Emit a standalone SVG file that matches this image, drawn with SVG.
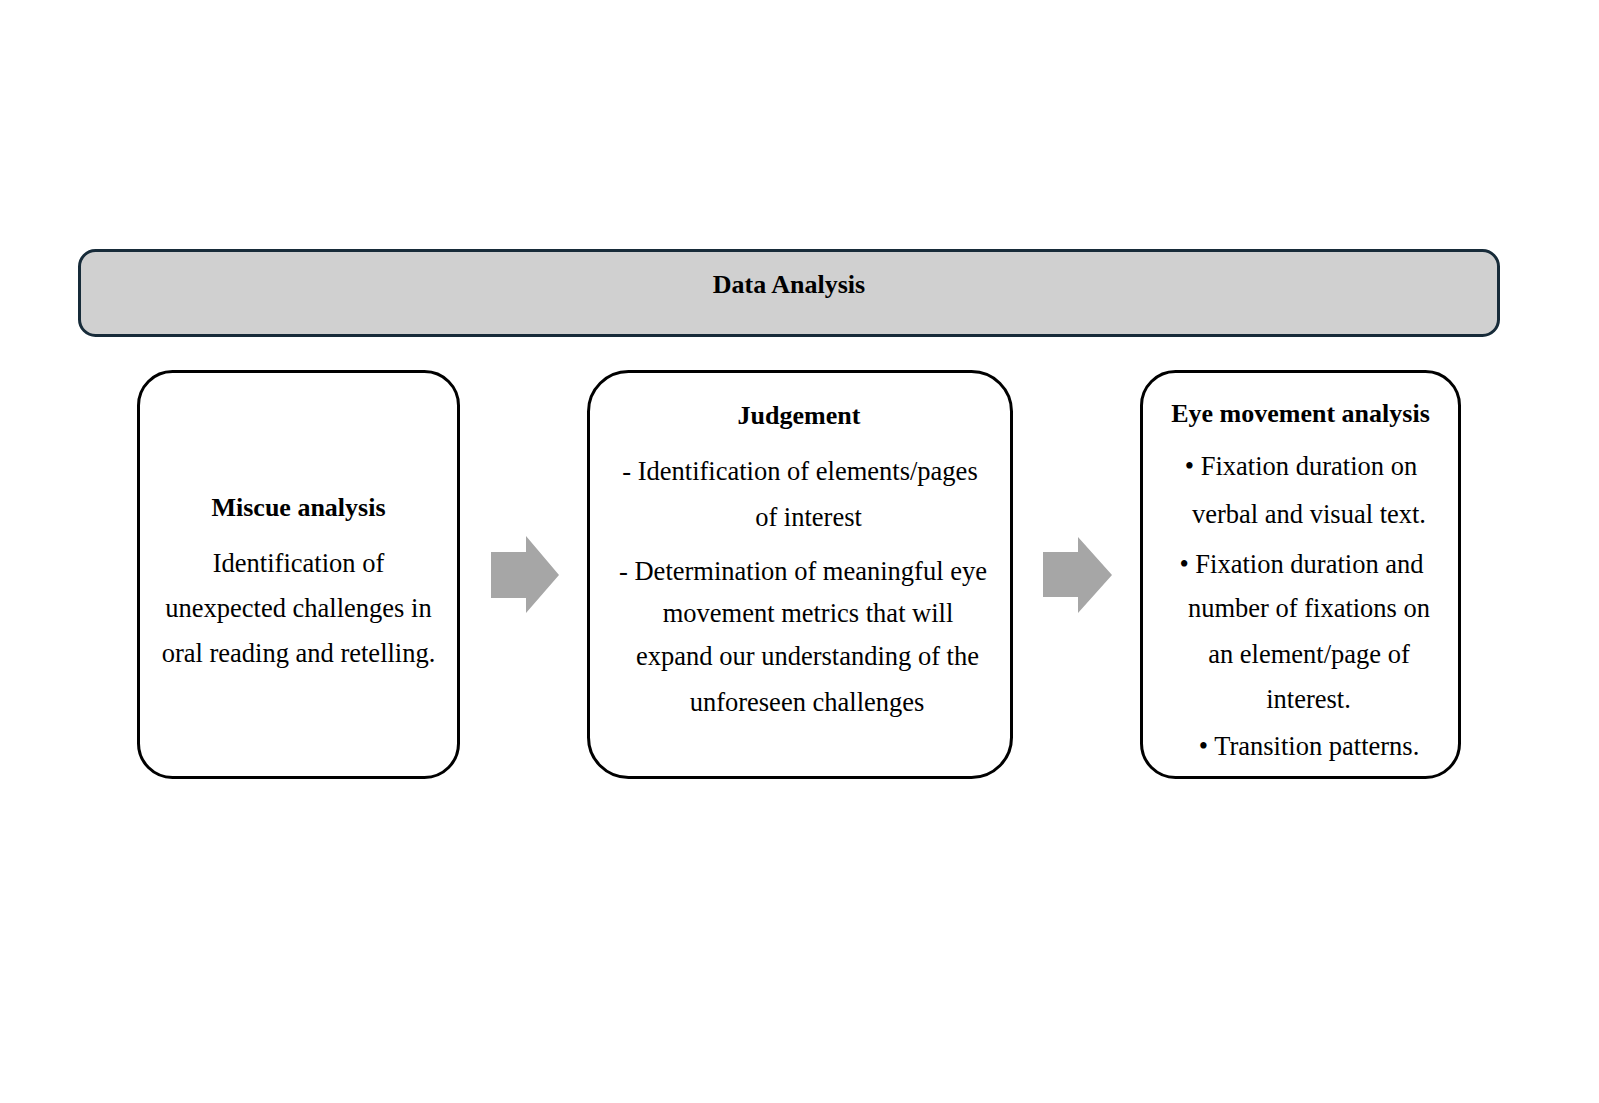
<svg xmlns="http://www.w3.org/2000/svg" width="1599" height="1103" viewBox="0 0 1599 1103">
<style>
.box{fill:#ffffff;stroke:#000000;stroke-width:3}
.bar{fill:#d0d0d0;stroke:#172b39;stroke-width:3}
.t{font-family:"Liberation Serif","Times New Roman",serif;font-size:26.5px;fill:#000;text-anchor:middle}
.b{font-weight:bold;font-size:26px}
.arr{fill:#a6a6a6}
</style>
<rect width="1599" height="1103" fill="#ffffff"/>
<g id="data-analysis">
<rect class="bar" x="79.5" y="250.5" width="1419" height="85" rx="16"/>
<text class="t b" x="789" y="293">Data Analysis</text>
</g>
<g id="miscue">
<rect class="box" x="138.5" y="371.5" width="320" height="406" rx="34"/>
<text class="t b" x="298.5" y="516">Miscue analysis</text>
<text class="t" x="298.5" y="572">Identification of</text>
<text class="t" x="298.5" y="617">unexpected challenges in</text>
<text class="t" x="298.5" y="662">oral reading and retelling.</text>
</g>
<g id="judgement">
<rect class="box" x="588.5" y="371.5" width="423" height="406" rx="40"/>
<text class="t b" x="799" y="424">Judgement</text>
<text class="t" x="800" y="480">- Identification of elements/pages</text>
<text class="t" x="808.5" y="526">of interest</text>
<text class="t" x="803" y="580">- Determination of meaningful eye</text>
<text class="t" x="808" y="622">movement metrics that will</text>
<text class="t" x="807.5" y="665">expand our understanding of the</text>
<text class="t" x="807" y="711">unforeseen challenges</text>
</g>
<g id="eye-movement">
<rect class="box" x="1141.5" y="371.5" width="318" height="406" rx="34"/>
<text class="t b" x="1300.5" y="422">Eye movement analysis</text>
<text class="t" x="1301" y="475">• Fixation duration on</text>
<text class="t" x="1309" y="523">verbal and visual text.</text>
<text class="t" x="1301.5" y="573">• Fixation duration and</text>
<text class="t" x="1309" y="617">number of fixations on</text>
<text class="t" x="1309" y="663">an element/page of</text>
<text class="t" x="1308.5" y="708">interest.</text>
<text class="t" x="1309" y="755">• Transition patterns.</text>
</g>
<g id="connectors">
<polygon class="arr" points="491,552 526,552 526,536 559,575 526,613 526,598 491,598"/>
<polygon class="arr" points="1043,552 1078,552 1078,537 1112,575 1078,613 1078,597 1043,597"/>
</g>
</svg>
